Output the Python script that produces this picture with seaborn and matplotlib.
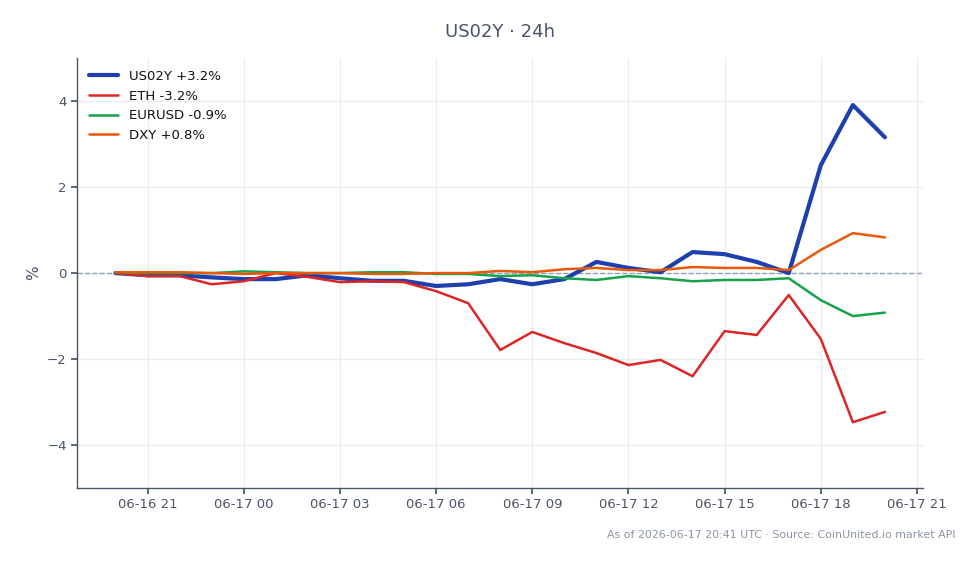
import seaborn as sns
import matplotlib.pyplot as plt
import matplotlib.dates as mdates
import pandas as pd

# hourly timestamps, 24h window
times = pd.date_range('2026-06-16 20:00', '2026-06-17 20:00', freq='h')

us02y = [0.0, -0.05, -0.05, -0.1, -0.14, -0.14, -0.05, -0.12, -0.18, -0.18,
         -0.3, -0.26, -0.14, -0.26, -0.14, 0.26, 0.12, 0.02, 0.49, 0.44,
         0.26, 0.0, 2.51, 3.91, 3.16]
eth = [0.0, -0.07, -0.07, -0.26, -0.19, 0.0, -0.09, -0.21, -0.19, -0.21,
       -0.42, -0.7, -1.79, -1.37, -1.63, -1.86, -2.14, -2.02, -2.4, -1.35,
       -1.44, -0.51, -1.53, -3.47, -3.23]
eurusd = [0.02, 0.0, 0.0, 0.0, 0.04, 0.02, 0.0, 0.0, 0.02, 0.02,
          -0.02, -0.02, -0.07, -0.05, -0.12, -0.16, -0.07, -0.12, -0.19, -0.16,
          -0.16, -0.12, -0.63, -1.0, -0.92]
dxy = [0.02, 0.02, 0.02, 0.0, -0.02, 0.0, 0.0, 0.0, -0.02, -0.02,
       0.0, 0.0, 0.05, 0.02, 0.09, 0.12, 0.07, 0.07, 0.14, 0.12,
       0.12, 0.07, 0.54, 0.93, 0.83]

series = [
    ('US02Y +3.2%', us02y, '#1e40af', 3.0),
    ('ETH -3.2%', eth, '#dc2626', 1.8),
    ('EURUSD -0.9%', eurusd, '#16a34a', 1.8),
    ('DXY +0.8%', dxy, '#ea580c', 1.8),
]

sns.set_theme(style='whitegrid')
plt.rcParams['font.family'] = ['DejaVu Sans']

fig = plt.figure(figsize=(9.79, 5.64), dpi=100)
ax = fig.add_axes([0.0787, 0.1348, 0.8645, 0.762])

ax.axhline(0, color='#8da2c0', linestyle='--', linewidth=1, zorder=1)

for name, vals, color, lw in series:
    df = pd.DataFrame({'time': times, 'pct': vals})
    sns.lineplot(data=df, x='time', y='pct', color=color, linewidth=lw,
                 label=name, ax=ax, zorder=3)

ax.set_ylim(-5, 5)
ax.set_yticks([-4, -2, 0, 2, 4])
ax.set_yticklabels(['\u22124', '\u22122', '0', '2', '4'])
ax.xaxis.set_major_locator(mdates.HourLocator(byhour=[0, 3, 6, 9, 12, 15, 18, 21]))
ax.xaxis.set_major_formatter(mdates.DateFormatter('%m-%d %H'))

ax.grid(True, color='#e8ebf0', linewidth=0.8)
for side in ['top', 'right']:
    ax.spines[side].set_visible(False)
for side in ['left', 'bottom']:
    ax.spines[side].set_color('#4a5568')
    ax.spines[side].set_linewidth(1)
ax.tick_params(axis='both', colors='#4a5568', labelsize=9.5, length=4,
               bottom=True, left=True, labelcolor='#4a5568')

ax.set_xlabel('')
ax.set_ylabel('%', color='#4a5568', fontsize=11)
ax.set_title('US02Y \u00b7 24h', color='#4a5568', fontsize=13, pad=15)

leg = ax.legend(loc='upper left', frameon=False, fontsize=9.5,
                handlelength=2.2, borderaxespad=0.5)
for t in leg.get_texts():
    t.set_color('#111111')

fig.text(0.976, 0.052, 'As of 2026-06-17 20:41 UTC \u00b7 Source: CoinUnited.io market API',
         ha='right', va='center', fontsize=7.9, color='#8a94a3')

plt.savefig('out.png', dpi=100)
